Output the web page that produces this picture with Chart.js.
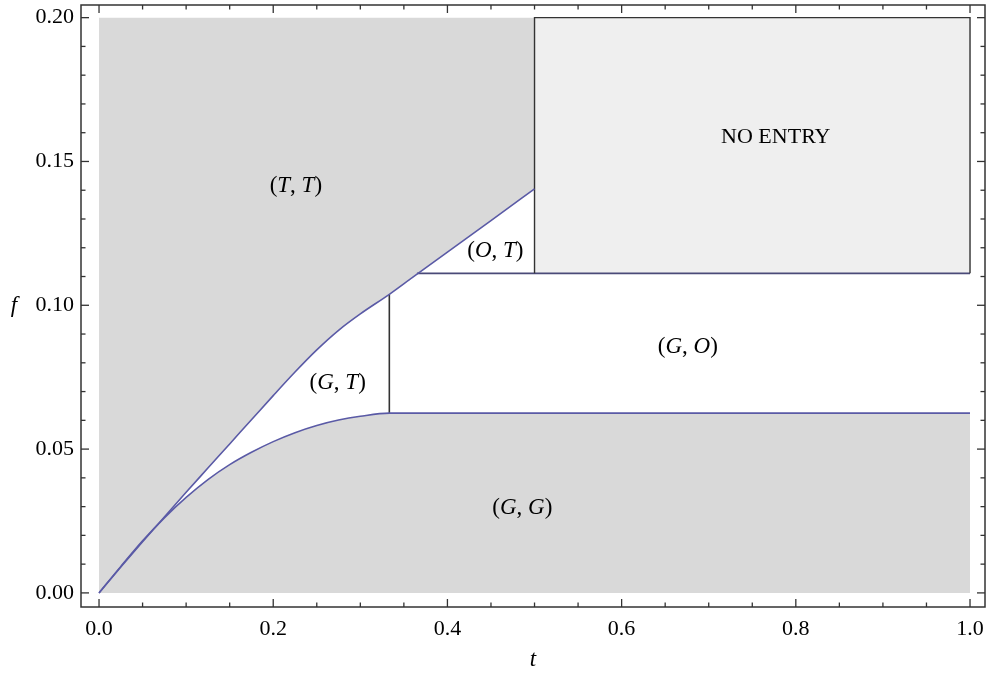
<!DOCTYPE html>
<html>
<head>
<meta charset="utf-8">
<script src="https://cdn.jsdelivr.net/npm/chart.js@4/dist/chart.umd.min.js"></script>
<style>
html,body{margin:0;padding:0;background:#fff;}
#wrap{width:990px;height:674px;position:relative;}
</style>
</head>
<body>
<div id="wrap"><canvas id="c"></canvas></div>
<script>
// ---- data ----
const upperT = [0, 0.025, 0.05, 0.075, 0.1, 0.125, 0.15, 0.175, 0.2, 0.225, 0.25, 0.275, 0.3, 0.3333, 0.36, 0.4, 0.45, 0.5];
const upperF = [0, 0.0090, 0.0178, 0.0264, 0.0350, 0.0434, 0.0518, 0.0602, 0.0686, 0.0768, 0.0845, 0.0913, 0.0970, 0.1038, 0.1097, 0.1185, 0.1294, 0.1405];
const lowerT = [0, 0.025, 0.05, 0.075, 0.1, 0.125, 0.15, 0.175, 0.2, 0.225, 0.25, 0.275, 0.3, 0.3333, 1.0];
const lowerF = [0, 0.0092, 0.0181, 0.0261, 0.0332, 0.0394, 0.0446, 0.0489, 0.0526, 0.0557, 0.0582, 0.0601, 0.0614, 0.0625, 0.0625];
const fTop = 0.2;
const fNoEntry = 0.1111;
const fGG = 0.0625;
const tGT = 0.3333;
const tNE = 0.5;
const tEnd = 1.0;
const tOTLeft = 0.365;
const fGTTop = 0.1038;

const xTicks = [0, 0.2, 0.4, 0.6, 0.8, 1.0];
const xMinor = [0.05, 0.1, 0.15, 0.25, 0.3, 0.35, 0.45, 0.5, 0.55, 0.65, 0.7, 0.75, 0.85, 0.9, 0.95];
const yTicks = [0, 0.05, 0.1, 0.15, 0.2];
const yMinor = [0.01, 0.02, 0.03, 0.04, 0.06, 0.07, 0.08, 0.09, 0.11, 0.12, 0.13, 0.14, 0.16, 0.17, 0.18, 0.19];

const regionLabels = ['(T, T)', '(O, T)', '(G, T)', '(G, O)', '(G, G)'];
const regionT = [0.226, 0.455, 0.274, 0.676, 0.486];
const regionF = [0.1415, 0.119, 0.073, 0.0855, 0.0296];
const noEntryLabel = 'NO ENTRY';
const noEntryT = 0.777;
const noEntryF = 0.1585;

const xTitle = 't';
const yTitle = 'f';

// ---- helpers ----
const pts = (ts, fs) => ts.map((t, i) => ({x: t, y: fs[i]}));
const GRAY = '#d9d9d9';
const LIGHT = '#efefef';
const BLUE = '#5a5aa6';
const DARK = '#333333';
const SERIF = '"Liberation Serif", "DejaVu Serif", serif';

const datasets = [
  { // 0 upper curve, fills to dataset 1 (T,T)
    data: pts(upperT, upperF), borderColor: BLUE, borderWidth: 1.6,
    backgroundColor: GRAY, fill: 1, cubicInterpolationMode: 'monotone'
  },
  { // 1 top line for (T,T)
    data: pts([0, tNE], [fTop, fTop]), borderWidth: 0, borderColor: 'rgba(0,0,0,0)', fill: false
  },
  { // 2 lower curve, fills to origin (G,G)
    data: pts(lowerT, lowerF), borderColor: BLUE, borderWidth: 1.6,
    backgroundColor: GRAY, fill: 'origin', cubicInterpolationMode: 'monotone'
  },
  { // 3 no-entry bottom
    data: pts([tNE, tEnd], [fNoEntry, fNoEntry]), borderWidth: 0, borderColor: 'rgba(0,0,0,0)',
    backgroundColor: LIGHT, fill: 4
  },
  { // 4 no-entry top
    data: pts([tNE, tEnd], [fTop, fTop]), borderWidth: 0, borderColor: 'rgba(0,0,0,0)', fill: false
  },
  { // 5 no-entry outline
    data: pts([tEnd, tEnd, tNE, tNE], [fNoEntry, fTop, fTop, fNoEntry]),
    borderColor: DARK, borderWidth: 1.4, fill: false
  },
  { // 6 horizontal line at 1/9
    data: pts([tOTLeft, tEnd], [fNoEntry, fNoEntry]), borderColor: '#4a4a78', borderWidth: 1.6, fill: false
  },
  { // 7 vertical line at 1/3
    data: pts([tGT, tGT], [fGG, fGTTop]), borderColor: DARK, borderWidth: 1.6, fill: false
  }
];

function drawMixed(ctx, text, x, y, size, italicLetters) {
  const parts = [];
  for (const ch of text) {
    const it = italicLetters && /[A-Za-z]/.test(ch);
    parts.push({ch, font: (it ? 'italic ' : '') + size + 'px ' + SERIF});
  }
  let w = 0;
  for (const p of parts) { ctx.font = p.font; p.w = ctx.measureText(p.ch).width; w += p.w; }
  let cx = x - w / 2;
  ctx.textAlign = 'left';
  ctx.textBaseline = 'middle';
  for (const p of parts) { ctx.font = p.font; ctx.fillText(p.ch, cx, y); cx += p.w; }
}

const framePlugin = {
  id: 'frame',
  afterDraw(chart) {
    const {ctx, chartArea: a, scales: {x, y}} = chart;
    ctx.save();
    ctx.strokeStyle = DARK;
    ctx.lineWidth = 1.5;
    ctx.strokeRect(a.left, a.top, a.right - a.left, a.bottom - a.top);
    ctx.lineWidth = 1.3;
    const tick = (px, py, dx, dy) => { ctx.beginPath(); ctx.moveTo(px, py); ctx.lineTo(px + dx, py + dy); ctx.stroke(); };
    xTicks.forEach(v => { const p = x.getPixelForValue(v); tick(p, a.bottom, 0, -8); tick(p, a.top, 0, 8); });
    xMinor.forEach(v => { const p = x.getPixelForValue(v); tick(p, a.bottom, 0, -4.5); tick(p, a.top, 0, 4.5); });
    yTicks.forEach(v => { const p = y.getPixelForValue(v); tick(a.left, p, 8, 0); tick(a.right, p, -8, 0); });
    yMinor.forEach(v => { const p = y.getPixelForValue(v); tick(a.left, p, 4.5, 0); tick(a.right, p, -4.5, 0); });
    ctx.fillStyle = '#000';
    regionLabels.forEach((s, i) => drawMixed(ctx, s, x.getPixelForValue(regionT[i]), y.getPixelForValue(regionF[i]), 23, true));
    ctx.font = '22px ' + SERIF;
    ctx.textAlign = 'center'; ctx.textBaseline = 'middle';
    ctx.fillText(noEntryLabel, x.getPixelForValue(noEntryT), y.getPixelForValue(noEntryF));
    ctx.font = 'italic 23px ' + SERIF;
    ctx.fillText(xTitle, (a.left + a.right) / 2, 660);
    ctx.fillText(yTitle, 14, (a.top + a.bottom) / 2);
    ctx.restore();
  }
};

new Chart(document.getElementById('c'), {
  type: 'line',
  data: {datasets},
  options: {
    responsive: true,
    maintainAspectRatio: false,
    animation: false,
    elements: {point: {radius: 0, hoverRadius: 0}},
    layout: {padding: {top: 5, right: 5, left: 0, bottom: 0}},
    plugins: {legend: {display: false}, tooltip: {enabled: false}, filler: {drawTime: 'beforeDatasetsDraw'}},
    scales: {
      x: {
        type: 'linear', min: -0.0207, max: 1.0172,
        grid: {display: false, drawTicks: false},
        border: {display: false},
        afterBuildTicks: s => { s.ticks = xTicks.map(v => ({value: v})); },
        afterFit: s => { s.height = 67; s.paddingLeft = 0; s.paddingRight = 0; },
        ticks: {padding: 9, color: '#000', font: {family: SERIF, size: 22}, maxRotation: 0,
                callback: v => Number(v).toFixed(1)}
      },
      y: {
        type: 'linear', min: -0.0049, max: 0.2044,
        grid: {display: false, drawTicks: false},
        border: {display: false},
        afterBuildTicks: s => { s.ticks = yTicks.map(v => ({value: v})); },
        afterFit: s => { s.width = 81; s.paddingTop = 0; s.paddingBottom = 0; },
        ticks: {padding: 7, color: '#000', font: {family: SERIF, size: 22},
                callback: v => Number(v).toFixed(2)}
      }
    }
  },
  plugins: [framePlugin]
});
</script>
</body>
</html>
